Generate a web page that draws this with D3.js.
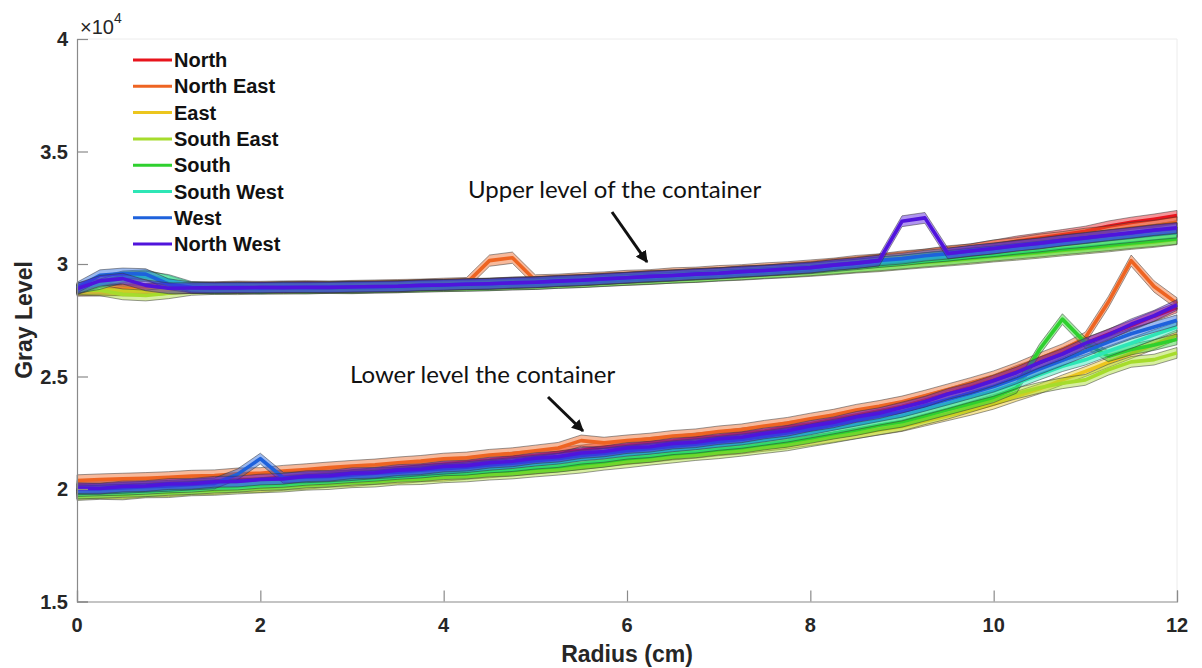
<!DOCTYPE html>
<html>
<head>
<meta charset="utf-8">
<script src="https://cdn.jsdelivr.net/npm/d3@7"></script>
<style>
  body { margin: 0; background: #fff; }
  svg { display: block; }
</style>
</head>
<body>
<script>
// radial profiles, sampled every 0.25 cm (gray level, raw units)
const radius = d3.range(0, 12.001, 0.25);

const names = ['North', 'North East', 'East', 'South East', 'South', 'South West', 'West', 'North West'];
const colors = ['#e8141c', '#ee6422', '#ecc61e', '#a6dc2c', '#2ed02e', '#2ee6b6', '#1e62dc', '#5014dc'];
const spread = [230, 250, 220, 240, 240, 230, 240, 240];

// upper level of the container
const upperN  = [28880,28900,28890,28910,28920,28910,28930,28920,28940,28980,28990,28980,29010,29020,29030,29080,29090,29130,29140,29190,29210,29270,29300,29370,29410,29480,29510,29580,29610,29690,29730,29810,29890,30000,30090,30210,30300,30430,30540,30670,30830,31010,31150,31300,31450,31680,31850,31990,32150];
const upperNE = [28820,28830,28850,28860,28900,28950,28960,28990,28980,29000,29010,29000,29020,29040,29060,29080,29120,29150,30150,30280,29270,29300,29360,29400,29470,29500,29580,29610,29680,29720,29800,29850,29930,30010,30130,30200,30330,30410,30560,30640,30820,30920,31080,31190,31340,31440,31600,31690,31850];
const upperE  = [28870,28850,28800,28810,28870,28910,28930,28920,28960,28950,28980,28960,29000,29010,29040,29060,29100,29090,29140,29150,29210,29230,29300,29320,29400,29430,29510,29530,29610,29640,29700,29750,29820,29910,29990,30090,30170,30280,30370,30470,30580,30680,30790,30890,31000,31090,31210,31300,31420];
const upperSE = [28850,28830,28650,28600,28700,28850,28890,28880,28910,28900,28920,28930,28920,28950,28960,29000,29010,29040,29060,29090,29110,29160,29190,29250,29290,29330,29390,29420,29480,29520,29580,29630,29690,29760,29840,29900,29990,30070,30150,30230,30330,30410,30500,30600,30690,30780,30890,30980,31100];
const upperS  = [28880,29200,29450,29500,29250,28940,28900,28920,28900,28930,28910,28940,28930,28950,28970,28990,29020,29030,29050,29090,29110,29160,29200,29240,29300,29340,29390,29430,29490,29540,29600,29650,29720,29790,29870,29940,30020,30110,30190,30280,30370,30460,30550,30650,30740,30830,30930,31020,31120];
const upperSW = [28930,29100,29400,29450,29300,28990,28950,28960,28940,28970,28950,28980,28970,28990,29000,29040,29060,29090,29100,29140,29170,29220,29260,29310,29370,29410,29470,29510,29570,29620,29690,29740,29800,29890,29980,30080,30160,30270,30360,30470,30560,30670,30770,30890,30980,31090,31190,31300,31390];
const upperW  = [28950,29500,29580,29550,29100,28960,28930,28960,28940,28970,28960,28960,28990,28990,29010,29050,29070,29110,29120,29170,29190,29250,29280,29340,29390,29450,29490,29550,29590,29660,29710,29780,29840,29950,30040,30160,30240,30370,30460,30590,30690,30820,30910,31040,31150,31270,31370,31490,31580];
const upperNW = [28900,29250,29350,29050,28920,28930,28950,28940,28960,28950,28970,28960,28980,29000,29010,29050,29070,29100,29120,29160,29190,29240,29280,29340,29390,29450,29490,29550,29590,29660,29710,29780,29840,29950,30040,30150,31900,32050,30470,30580,30690,30810,30920,31050,31160,31280,31390,31510,31610];

// lower level of the container
const lowerN  = [20150,20120,20170,20210,20260,20320,20350,20420,20440,20530,20620,20700,20780,20830,20930,21020,21110,21200,21290,21410,21490,21620,21720,21850,21940,22060,22140,22260,22340,22480,22580,22760,22900,23100,23290,23480,23680,23960,24240,24560,24850,25260,25620,26060,26480,26880,27260,27680,28060];
const lowerNE = [20380,20420,20450,20480,20520,20580,20600,20680,20700,20800,20870,20950,21020,21080,21170,21240,21340,21390,21510,21580,21700,21820,22150,22050,22150,22230,22350,22420,22550,22640,22800,22930,23120,23290,23510,23680,23880,24140,24420,24700,25000,25370,25800,26200,26720,28300,30150,29000,28250];
const lowerE  = [19760,19790,19780,19870,19880,19960,19980,20060,20070,20160,20210,20300,20330,20420,20450,20540,20570,20650,20720,20800,20880,20990,21080,21200,21310,21400,21510,21590,21700,21780,21900,22010,22150,22300,22460,22620,22780,23020,23260,23500,23770,24120,24450,24850,25220,25620,26020,26420,26850];
const lowerSE = [19730,19780,19760,19850,19860,19940,19960,20020,20070,20110,20190,20220,20300,20330,20420,20440,20520,20560,20640,20690,20780,20860,20950,21080,21180,21300,21400,21510,21590,21700,21820,21940,22120,22290,22470,22650,22820,23100,23350,23650,23960,24250,24500,24700,24850,25300,25650,25750,26050];
const lowerS  = [19800,19830,19870,19900,19960,20000,20060,20100,20170,20200,20290,20330,20410,20450,20540,20570,20660,20690,20780,20820,20920,20990,21110,21210,21350,21430,21560,21630,21750,21830,21980,22100,22270,22460,22620,22830,22990,23260,23530,23800,24080,24500,26200,27550,26500,25900,26200,26400,26650];
const lowerSW = [19900,19930,19960,20000,20060,20090,20170,20190,20270,20310,20400,20450,20520,20580,20660,20720,20820,20850,20950,21010,21120,21190,21340,21420,21560,21630,21760,21830,21950,22040,22180,22320,22500,22680,22870,23070,23260,23530,23800,24090,24350,24700,25080,25450,25740,26120,26480,26850,27200];
const lowerW  = [19990,20010,20050,20100,20140,20200,20250,20650,21350,20500,20520,20560,20620,20700,20750,20830,20900,20970,21070,21150,21260,21350,21490,21580,21700,21790,21900,21990,22100,22200,22340,22490,22650,22850,23040,23240,23430,23700,23980,24260,24550,24920,25330,25720,26120,26530,26900,27200,27500];
const lowerNW = [20040,20020,20110,20130,20220,20230,20320,20330,20420,20450,20570,20590,20700,20720,20840,20880,21000,21040,21170,21230,21370,21440,21600,21670,21820,21880,22020,22080,22220,22300,22470,22590,22800,22960,23200,23370,23620,23880,24220,24480,24820,25180,25620,26000,26470,26850,27320,27700,28180];

const upperSeries = [upperN, upperNE, upperE, upperSE, upperS, upperSW, upperW, upperNW];
const lowerSeries = [lowerN, lowerNE, lowerE, lowerSE, lowerS, lowerSW, lowerW, lowerNW];

const xTicks = [0, 2, 4, 6, 8, 10, 12];
const yTicks = [15000, 20000, 25000, 30000, 35000, 40000];

const W = 1202, H = 668;
const m = {left: 77, right: 25, top: 39, bottom: 66.5};

const svg = d3.select('body').append('svg')
    .attr('width', W)
    .attr('height', H);

const x = d3.scaleLinear().domain([0, 12]).range([m.left, W - m.right]);
const y = d3.scaleLinear().domain([15000, 40000]).range([H - m.bottom, m.top]);

const axisColor = '#8a8a8a';

// faint box on top / right
svg.append('path')
    .attr('d', `M${x(0)},${y(40000)}H${x(12)}V${y(15000)}`)
    .attr('fill', 'none')
    .attr('stroke', '#ececec');

const plot = svg.append('g');

const line = d3.line()
    .x((d, i) => x(radius[i]))
    .y(d => y(d));

function bandFor(k) {
    return d3.area()
        .x((d, i) => x(radius[i]))
        .y0(d => y(d - spread[k]))
        .y1(d => y(d + spread[k]));
}

function drawLevel(series) {
    series.forEach((vals, k) => {
        plot.append('path')
            .attr('d', bandFor(k)(vals))
            .attr('fill', colors[k])
            .attr('fill-opacity', 0.45)
            .attr('stroke', '#333')
            .attr('stroke-opacity', 0.7)
            .attr('stroke-width', 0.7);
        plot.append('path')
            .attr('d', line(vals))
            .attr('fill', 'none')
            .attr('stroke', colors[k])
            .attr('stroke-width', 3.6)
            .attr('stroke-linejoin', 'round');
    });
}

drawLevel(upperSeries);
drawLevel(lowerSeries);

// axes
const xAxis = svg.append('g')
    .attr('transform', `translate(0,${y(15000)})`)
    .call(d3.axisTop(x).tickValues(xTicks).tickSize(11).tickFormat(''));
const yAxis = svg.append('g')
    .attr('transform', `translate(${x(0)},0)`)
    .call(d3.axisRight(y).tickValues(yTicks).tickSize(11).tickFormat(''));
[xAxis, yAxis].forEach(a => {
    a.selectAll('path,line').attr('stroke', axisColor).attr('stroke-width', 1.2);
});

const labelFont = '"Liberation Sans", Arial, sans-serif';

svg.selectAll('.xlab')
    .data(xTicks)
    .enter()
    .append('text')
    .attr('x', d => x(d))
    .attr('y', y(15000) + 30)
    .attr('text-anchor', 'middle')
    .attr('font-family', labelFont)
    .attr('font-weight', 'bold')
    .attr('font-size', 20)
    .attr('fill', '#262626')
    .text(d => d);

svg.selectAll('.ylab')
    .data(yTicks)
    .enter()
    .append('text')
    .attr('x', x(0) - 9)
    .attr('y', d => y(d) + 7)
    .attr('text-anchor', 'end')
    .attr('font-family', labelFont)
    .attr('font-weight', 'bold')
    .attr('font-size', 20)
    .attr('fill', '#262626')
    .text(d => d3.format('')(d / 10000));

// exponent
const expo = svg.append('text')
    .attr('x', 80)
    .attr('y', 34)
    .attr('font-family', labelFont)
    .attr('font-size', 20)
    .attr('fill', '#262626');
expo.append('tspan').text('\u00d710');
expo.append('tspan').attr('dy', -11).attr('font-size', 14).text('4');

svg.append('text')
    .attr('x', (x(0) + x(12)) / 2)
    .attr('y', 662)
    .attr('text-anchor', 'middle')
    .attr('font-family', labelFont)
    .attr('font-weight', 'bold')
    .attr('font-size', 23)
    .attr('fill', '#262626')
    .text('Radius (cm)');

svg.append('text')
    .attr('transform', 'translate(32,320) rotate(-90)')
    .attr('text-anchor', 'middle')
    .attr('font-family', labelFont)
    .attr('font-weight', 'bold')
    .attr('font-size', 23)
    .attr('fill', '#262626')
    .text('Gray Level');

// legend
const legend = svg.append('g');
names.forEach((n, i) => {
    const ly = 60 + i * 26.3;
    legend.append('line')
        .attr('x1', 133).attr('x2', 172)
        .attr('y1', ly).attr('y2', ly)
        .attr('stroke', colors[i])
        .attr('stroke-width', 3);
    legend.append('text')
        .attr('x', 174)
        .attr('y', ly + 7)
        .attr('font-family', labelFont)
        .attr('font-weight', 'bold')
        .attr('font-size', 20)
        .attr('fill', '#111')
        .text(n);
});

// annotations
svg.append('defs').append('marker')
    .attr('id', 'head')
    .attr('viewBox', '0 0 10 10')
    .attr('refX', 9).attr('refY', 5)
    .attr('markerWidth', 4).attr('markerHeight', 4)
    .attr('orient', 'auto')
    .append('path')
    .attr('d', 'M0,0L10,5L0,10Z')
    .attr('fill', '#111');

const notes = [
    {text: 'Upper level of the container', tx: 468, ty: 198, from: [612, 212], to: [647, 262]},
    {text: 'Lower level the container', tx: 350, ty: 383, from: [548, 397], to: [583, 431]}
];
notes.forEach(n => {
    svg.append('text')
        .attr('x', n.tx)
        .attr('y', n.ty)
        .attr('font-family', 'Lato, "Open Sans", sans-serif')
        .attr('font-size', 24)
        .attr('fill', '#111')
        .text(n.text);
    svg.append('line')
        .attr('x1', n.from[0]).attr('y1', n.from[1])
        .attr('x2', n.to[0]).attr('y2', n.to[1])
        .attr('stroke', '#111')
        .attr('stroke-width', 3)
        .attr('marker-end', 'url(#head)');
});
</script>
</body>
</html>
